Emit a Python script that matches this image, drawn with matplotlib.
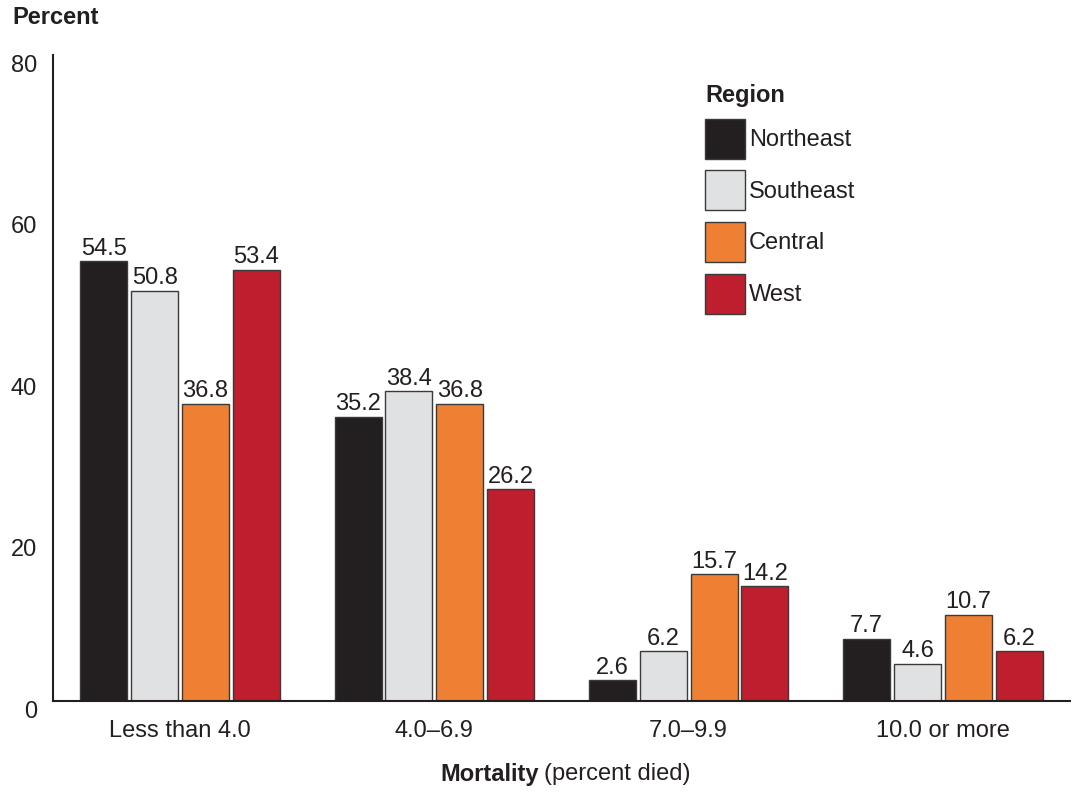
import matplotlib
matplotlib.use("Agg")
import matplotlib.pyplot as plt
import numpy as np
from matplotlib.patches import Patch

plt.rcParams['font.family'] = ['Liberation Sans', 'DejaVu Sans']

categories = ["Less than 4.0", "4.0\u20136.9", "7.0\u20139.9", "10.0 or more"]
regions = ["Northeast", "Southeast", "Central", "West"]
northeast = [54.5, 35.2, 2.6, 7.7]
southeast = [50.8, 38.4, 6.2, 4.6]
central = [36.8, 36.8, 15.7, 10.7]
west = [53.4, 26.2, 14.2, 6.2]
yticks = [0, 20, 40, 60, 80]

series = [northeast, southeast, central, west]
colors = ["#231f20", "#e0e1e3", "#ee7f33", "#be1e2d"]
txt = "#231f20"
FS = 17

fig = plt.figure(figsize=(10.73, 7.93), dpi=100)
ax = fig.add_axes([53/1073, 1-701/793, (1070-53)/1073, (701-55)/793])

x = np.arange(len(categories))
width = 0.185
step = 0.2
for i, (vals, col) in enumerate(zip(series, colors)):
    pos = x + (i - 1.5) * step
    bars = ax.bar(pos, vals, width=width, color=col, edgecolor="#3a3a3a", linewidth=1.0, label=regions[i], zorder=2)
    ax.bar_label(bars, labels=[f"{v:.1f}" for v in vals], padding=1, fontsize=FS, color=txt)

ax.set_xlim(-0.5, 3.5)
ax.set_ylim(0, 80)
ax.set_yticks(yticks)
ax.set_yticklabels([str(t) for t in yticks])
ax.set_xticks(x)
ax.set_xticklabels(categories)
ax.tick_params(axis='both', length=0, labelsize=FS, labelcolor=txt)
ax.tick_params(axis='y', pad=11.5)
ax.tick_params(axis='x', pad=14)
for lab in ax.get_yticklabels():
    lab.set_va('top')
for s in ["top", "right"]:
    ax.spines[s].set_visible(False)
for s in ["left", "bottom"]:
    ax.spines[s].set_color(txt)
    ax.spines[s].set_linewidth(1.5)

fig.text(12/1073, 1-18/793, "Percent", fontsize=FS, fontweight='bold', color=txt, ha='left', va='center')
fig.text(539/1073, 1-774/793, "Mortality", fontsize=FS, fontweight='bold', color=txt, ha='right', va='center')
fig.text(544/1073, 1-774/793, "(percent died)", fontsize=FS, color=txt, ha='left', va='center')

handles = [Patch(facecolor=c, edgecolor="#3a3a3a", linewidth=1.0) for c in colors]
leg = ax.legend(handles, regions, loc='upper left', bbox_to_anchor=(705/1073, 1-84/793),
                bbox_transform=fig.transFigure, frameon=False, fontsize=FS,
                title="Region", title_fontproperties={'weight': 'bold', 'size': FS},
                alignment='left', handlelength=1.7, handleheight=2.22,
                handletextpad=0.15, labelspacing=0.5, borderpad=0, borderaxespad=0)
for t in leg.get_texts():
    t.set_color(txt)
leg.get_title().set_color(txt)

fig.savefig("out.png", dpi=100)
